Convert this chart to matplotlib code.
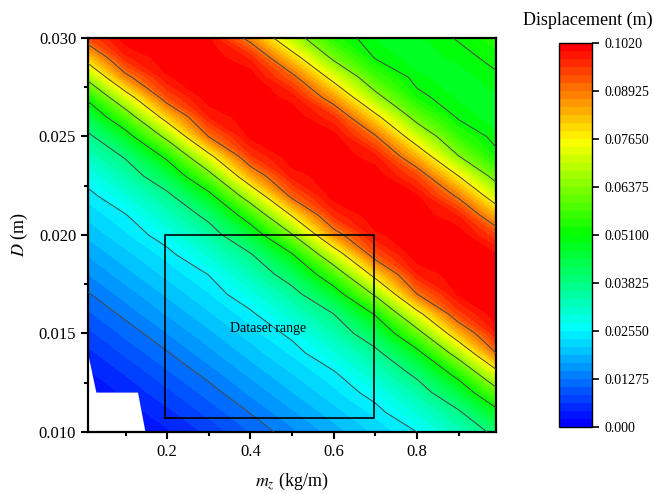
import numpy as np
import matplotlib
matplotlib.use("Agg")
import matplotlib.pyplot as plt
from matplotlib.colors import LinearSegmentedColormap, ListedColormap, BoundaryNorm

plt.rcParams["font.family"] = "Liberation Serif"
plt.rcParams["mathtext.fontset"] = "stix"

# grid
mz = [0.01, 0.1, 0.2, 0.3, 0.4, 0.5, 0.6, 0.7, 0.8, 0.9, 0.99]
d = [0.030, 0.029, 0.028, 0.027, 0.026, 0.025, 0.024, 0.023, 0.022, 0.021, 0.020,
     0.019, 0.018, 0.017, 0.016, 0.015, 0.014, 0.013, 0.012, 0.011, 0.010]

# displacement (m), one row per D value (top row D = 0.030)
disp = [
    [0.0934, 0.1015, 0.1015, 0.0999, 0.0869, 0.0682, 0.0539, 0.0487, 0.0484, 0.0514, 0.0543],
    [0.0807, 0.0971, 0.1015, 0.1015, 0.0972, 0.0804, 0.0620, 0.0506, 0.0475, 0.0495, 0.0523],
    [0.0663, 0.0873, 0.0996, 0.1015, 0.1015, 0.0915, 0.0736, 0.0573, 0.0494, 0.0475, 0.0503],
    [0.0529, 0.0722, 0.0933, 0.1015, 0.1015, 0.0990, 0.0853, 0.0664, 0.0523, 0.0483, 0.0484],
    [0.0439, 0.0585, 0.0806, 0.0977, 0.1015, 0.1015, 0.0959, 0.0787, 0.0604, 0.0502, 0.0476],
    [0.0367, 0.0474, 0.0662, 0.0895, 0.1005, 0.1015, 0.1009, 0.0900, 0.0711, 0.0557, 0.0494],
    [0.0322, 0.0390, 0.0529, 0.0742, 0.0951, 0.1015, 0.1015, 0.0984, 0.0830, 0.0639, 0.0523],
    [0.0276, 0.0341, 0.0438, 0.0605, 0.0838, 0.0986, 0.1015, 0.1015, 0.0939, 0.0764, 0.0604],
    [0.0242, 0.0295, 0.0367, 0.0486, 0.0690, 0.0913, 0.1011, 0.1015, 0.1001, 0.0879, 0.0711],
    [0.0219, 0.0252, 0.0321, 0.0402, 0.0555, 0.0771, 0.0964, 0.1015, 0.1015, 0.0975, 0.0831],
    [0.0196, 0.0229, 0.0276, 0.0348, 0.0455, 0.0631, 0.0861, 0.0993, 0.1015, 0.1015, 0.0939],
    [0.0172, 0.0205, 0.0242, 0.0302, 0.0376, 0.0503, 0.0710, 0.0926, 0.1015, 0.1015, 0.1001],
    [0.0148, 0.0182, 0.0219, 0.0256, 0.0331, 0.0419, 0.0574, 0.0794, 0.0976, 0.1015, 0.1015],
    [0.0125, 0.0158, 0.0195, 0.0232, 0.0285, 0.0357, 0.0467, 0.0651, 0.0892, 0.1001, 0.1015],
    [0.0102, 0.0135, 0.0172, 0.0209, 0.0247, 0.0311, 0.0383, 0.0518, 0.0738, 0.0944, 0.1015],
    [0.0079, 0.0112, 0.0148, 0.0185, 0.0223, 0.0265, 0.0337, 0.0431, 0.0601, 0.0825, 0.0976],
    [0.0057, 0.0089, 0.0125, 0.0162, 0.0200, 0.0237, 0.0292, 0.0363, 0.0484, 0.0679, 0.0892],
    [0.0039, 0.0066, 0.0102, 0.0138, 0.0176, 0.0213, 0.0250, 0.0318, 0.0400, 0.0544, 0.0737],
    [0.0022, 0.0047, 0.0079, 0.0115, 0.0153, 0.0190, 0.0227, 0.0272, 0.0346, 0.0448, 0.0600],
    [0.0010, 0.0029, 0.0057, 0.0092, 0.0129, 0.0166, 0.0203, 0.0240, 0.0301, 0.0373, 0.0483],
    [0.0003, 0.0013, 0.0039, 0.0069, 0.0107, 0.0143, 0.0180, 0.0217, 0.0255, 0.0327, 0.0400],
]

# corner with no data (white)
nodata_mz = [0.01, 0.01, 0.030, 0.130, 0.148]
nodata_d = [0.0100, 0.0140, 0.0120, 0.0120, 0.0100]

# dataset range box
box_mz = [0.196, 0.696]
box_d = [0.0107, 0.0200]

cbar_ticks = [0.0, 0.01275, 0.0255, 0.03825, 0.051, 0.06375, 0.0765, 0.08925, 0.102]
cbar_labels = ["0.000", "0.01275", "0.02550", "0.03825", "0.05100",
               "0.06375", "0.07650", "0.08925", "0.1020"]

n_bands = 48
levels = np.linspace(0.0, 0.102, n_bands + 1)
line_levels = cbar_ticks[1:-1]

base = LinearSegmentedColormap.from_list(
    "bcgyr", ["#0000ff", "#00ffff", "#00ff00", "#ffff00", "#ff0000"])
cmap = ListedColormap([base(i / (n_bands - 1)) for i in range(n_bands)])
norm = BoundaryNorm(levels, n_bands)

fig = plt.figure(figsize=(6.54, 4.94), dpi=100)
ax = fig.add_axes([0.1346, 0.1255, 0.6239, 0.7976])

X, Y = np.meshgrid(mz, d)
Z = np.array(disp)
cf = ax.contourf(X, Y, Z, levels=levels, cmap=cmap, norm=norm)
ax.fill(nodata_mz, nodata_d, color="white", zorder=2, lw=0)
ax.contour(X, Y, Z, levels=line_levels, colors="#454545", linewidths=0.7, zorder=3)

ax.plot([box_mz[0], box_mz[1], box_mz[1], box_mz[0], box_mz[0]],
        [box_d[0], box_d[0], box_d[1], box_d[1], box_d[0]],
        color="black", lw=1.2, zorder=4)
ax.text(0.443, 0.01523, "Dataset range", fontsize=10, ha="center", va="center", zorder=5)

ax.set_xlim(0.01, 0.99)
ax.set_ylim(0.010, 0.030)
ax.set_xticks([0.2, 0.4, 0.6, 0.8])
ax.set_xticks([0.1, 0.3, 0.5, 0.7, 0.9], minor=True)
ax.set_yticks([0.010, 0.015, 0.020, 0.025, 0.030])
ax.set_yticklabels(["0.010", "0.015", "0.020", "0.025", "0.030"])
ax.set_yticks([0.0125, 0.0175, 0.0225, 0.0275], minor=True)
ax.tick_params(which="major", direction="out", length=5, width=1.5, labelsize=12)
ax.tick_params(which="minor", direction="out", length=3, width=1.5)
for sp in ax.spines.values():
    sp.set_linewidth(1.6)
ax.set_xlabel("$m_z$ (kg/m)", fontsize=13, labelpad=8)
ax.set_ylabel("$D$ (m)", fontsize=13, labelpad=6)

cax = fig.add_axes([0.855, 0.1356, 0.0505, 0.777])
cb = fig.colorbar(cf, cax=cax, ticks=cbar_ticks)
cb.ax.minorticks_off()
cb.ax.set_yticklabels(cbar_labels)
cb.ax.tick_params(direction="out", length=5, width=1.2, labelsize=10)
cb.outline.set_linewidth(1.0)
fig.text(0.899, 0.958, "Displacement (m)", fontsize=13, ha="center", va="center")

fig.savefig("out.png", dpi=100)
